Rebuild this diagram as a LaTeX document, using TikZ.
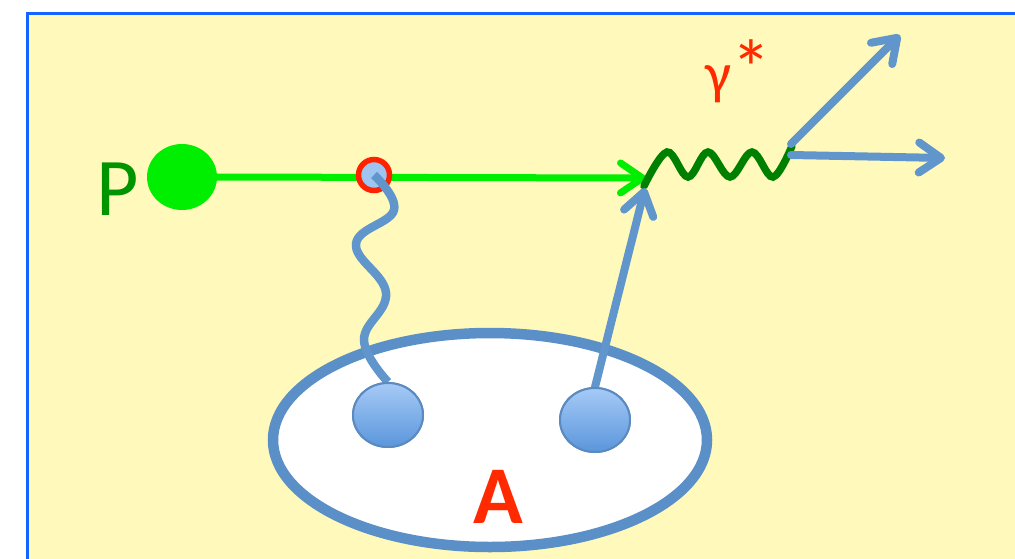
\documentclass[tikz,border=0pt]{standalone}
\usepackage{fontspec}
\setmainfont{Carlito}
\usetikzlibrary{arrows.meta,shapes.geometric}
\definecolor{bgyellow}{HTML}{FFFABB}
\definecolor{frameblue}{HTML}{1464FF}
\definecolor{brightgreen}{HTML}{00EE00}
\definecolor{pgreen}{HTML}{009400}
\definecolor{photongreen}{HTML}{008000}
\definecolor{lineblue}{HTML}{6196CC}
\definecolor{ellblue}{HTML}{5A8FC7}
\definecolor{blobtop}{HTML}{A6CAF6}
\definecolor{blobbot}{HTML}{5A96DC}
\definecolor{blobedge}{HTML}{5A8AC0}
\definecolor{tred}{HTML}{FF2A00}
\definecolor{ringred}{HTML}{FF2200}
\definecolor{ringfill}{HTML}{9EC4F2}
\begin{document}
\begin{tikzpicture}[x=1pt,y=-1pt,
  barb/.style={-{Straight Barb[length=22pt,width=30pt,round]}},
  gline/.style={draw=brightgreen,line width=7pt,barb},
  bline/.style={draw=lineblue,line width=8pt,line cap=round,barb},
  photon/.style={draw=photongreen,line width=7.5pt,line cap=round},
  wavyblue/.style={draw=lineblue,line width=8.5pt},
  blob/.style={ellipse,minimum width=70pt,minimum height=64pt,inner sep=0pt,
    top color=blobtop,bottom color=blobbot,draw=blobedge,line width=2pt},
  bigtext/.style={inner sep=0pt,font=\fontsize{82}{82}\selectfont}
]
\useasboundingbox (0,0) rectangle (1015,558);
\fill[white] (0,0) rectangle (1015,558);
\path[fill=bgyellow,draw=frameblue,line width=3pt] (27.5,13.5) rectangle (1040,580);

% nucleus
\node[ellipse,draw=ellblue,line width=10.5pt,fill=white,minimum width=434pt,
  minimum height=214pt,inner sep=0pt] (nuc) at (490,440) {};

% coordinates
\coordinate (gt) at (646,178);
\coordinate (v1) at (644,186);
\coordinate (v2) at (792,146);
\coordinate (u0) at (791,144);
\coordinate (l0) at (791,155);
\coordinate (e1) at (900,35);
\coordinate (e2) at (945,158);
\coordinate (bt) at (645,188);

% proton
\node[ellipse,fill=brightgreen,minimum width=70pt,minimum height=66pt,inner sep=0pt] (pc) at (182,177) {};
\node[bigtext,text=pgreen,anchor=base] (plabel) at (118,215) {P};
\draw[gline] (pc.east) -- (gt);

% photon
\draw[photon] plot[smooth,tension=0.6] coordinates {(v1) (667,152) (688,177) (708,152) (730,177) (752,152) (773,177) (v2)};
\node[inner sep=0pt,font=\fontsize{58}{58}\selectfont,text=tred,anchor=base west] (glabel) at (705,93) {γ\raisebox{-3pt}{\fontsize{80}{80}\selectfont *}};

% outgoing leptons
\draw[bline] (u0) -- (e1);
\draw[bline] (l0) -- (e2);

% interaction vertex
\node[circle,draw=ringred,line width=5.5pt,fill=ringfill,minimum size=31pt,inner sep=0pt] (rc) at (374,175) {};

% blobs
\node[blob] (lb) at (388,415) {};
\node[blob] (rb) at (595,420) {};

% exchanged wavy line
\draw[wavyblue] plot[smooth,tension=0.7] coordinates {(rc.center) (394,210) (356,244) (386,293) (364,340) (lb.north)};
\node[blob] at (lb) {};

% parton arrow
\draw[bline] (rb.north) -- (bt);
\node[blob] at (rb) {};

\node[bigtext,font=\fontsize{82}{82}\selectfont\bfseries,text=tred,anchor=base] (alabel) at (498,523) {A};
\end{tikzpicture}
\end{document}
